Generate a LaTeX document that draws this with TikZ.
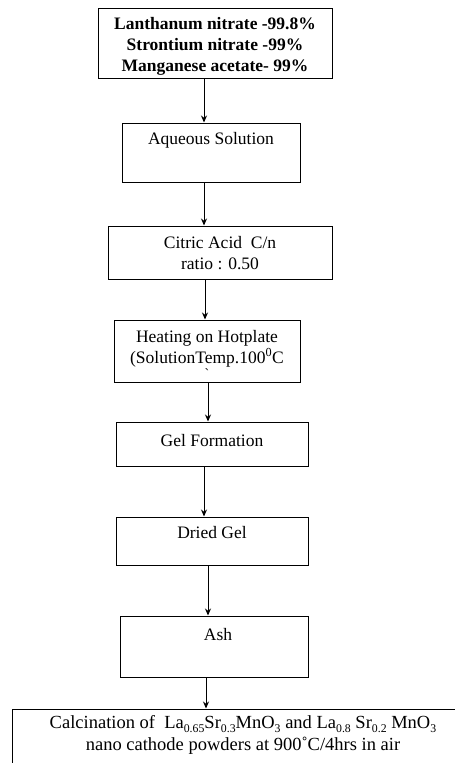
\documentclass[tikz,border=0pt]{standalone}
\usepackage{fontspec}
\setmainfont{Liberation Serif}
\usetikzlibrary{arrows.meta}
\newcommand\sbs[1]{\raisebox{-0.22em}{\fontsize{11.8}{12}\selectfont #1}}
\begin{document}
\begin{tikzpicture}[x=1pt,y=-1pt,
  box/.style={draw,line width=1pt,inner sep=0pt},
  txt/.style={font=\fontsize{17.5}{21}\selectfont,align=center,inner sep=0pt},
  arr/.style={-{Stealth[length=7pt,width=6pt]},line width=1pt}]
\useasboundingbox (0,0) rectangle (455,763);
\clip (0,0) rectangle (455,763);
% boxes
\node[box,minimum width=234pt,minimum height=70pt] (b1) at (215,43) {};
\node[box,minimum width=178pt,minimum height=59pt] (b2) at (211,152.5) {};
\node[box,minimum width=224pt,minimum height=53pt] (b3) at (220,252.5) {};
\node[box,minimum width=186pt,minimum height=62pt] (b4) at (207,351) {};
\node[box,minimum width=192pt,minimum height=44pt] (b5) at (212,444) {};
\node[box,minimum width=192pt,minimum height=48pt] (b6) at (212,541) {};
\node[box,minimum width=188pt,minimum height=61pt] (b7) at (214,646.5) {};
\node[box,minimum width=460pt,minimum height=91pt] (b8) at (242,754.5) {};
% texts
\node[txt,font=\fontsize{17.5}{21}\selectfont\bfseries] (t1) at (215,46)
  {Lanthanum nitrate -99.8\%\\Strontium nitrate -99\%\\Manganese acetate- 99\%};
\node[txt] (t2) at (211,140) {Aqueous Solution};
\node[txt] (t3) at (220,253) {Citric Acid\ \ C/n\\ratio : 0.50};
\node[txt] (t4) at (207,348.5) {Heating on Hotplate\\(SolutionTemp.100\textsuperscript{0}C};
\node[txt,font=\fontsize{14}{14}\selectfont] (t4b) at (207,374) {\textasciigrave};
\node[txt] (t5) at (212,441) {Gel Formation};
\node[txt] (t6) at (212,533) {Dried Gel};
\node[txt] (t7) at (218,635) {Ash};
\node[txt,font=\fontsize{18.5}{22}\selectfont] (t8) at (243,735)
  {Calcination of\ \ La\sbs{0.65}Sr\sbs{0.3}MnO\sbs{3} and La\sbs{0.8} Sr\sbs{0.2} MnO\sbs{3}\\nano cathode powders at 900˚C/4hrs in air};
% arrows
\draw[arr] (b1.south -| 204,0) -- (b2.north -| 204,0);
\draw[arr] (b2.south -| 204,0) -- (b3.north -| 204,0);
\draw[arr] (b3.south -| 205,0) -- (b4.north -| 205,0);
\draw[arr] (b4.south -| 208,0) -- (b5.north -| 208,0);
\draw[arr] (b5.south -| 204,0) -- (b6.north -| 204,0);
\draw[arr] (b6.south -| 208,0) -- (b7.north -| 208,0);
\draw[arr] (b7.south -| 206,0) -- (b8.north -| 206,0);
\end{tikzpicture}
\end{document}
